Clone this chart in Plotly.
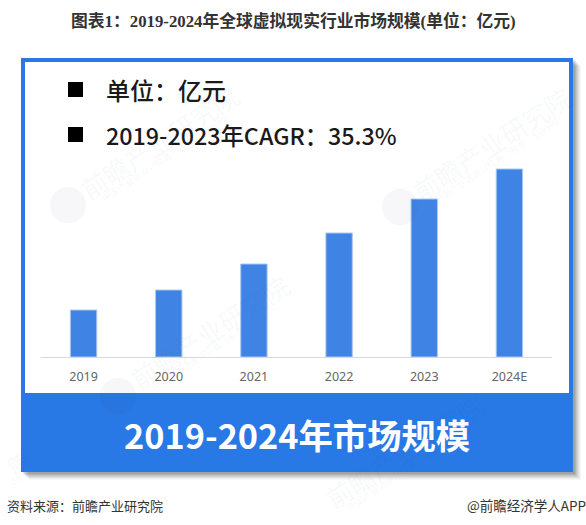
import plotly.graph_objects as go

W, H = 586, 525
categories = ["2019", "2020", "2021", "2022", "2023", "2024E"]
market_size = [47, 67, 93, 124, 158, 188]

title_text = "图表1：2019-2024年全球虚拟现实行业市场规模(单位：亿元)"
unit_text = "单位：亿元"
cagr_text = "2019-2023年CAGR：35.3%"
band_text = "2019-2024年市场规模"
source_text = "资料来源：前瞻产业研究院"
credit_text = "@前瞻经济学人APP"
watermark_text = "前瞻产业研究院"
watermark_sub = "中国产业咨询领导者（股票：839599）"

CJK = "Noto Sans CJK SC"
BLUE = "#2878E5"


def fx(px):
    return px / W


def fy(px):
    return 1 - px / H


def rect(x0, y0, x1, y1, fill, **kw):
    return dict(type="rect", xref="paper", yref="paper", x0=fx(x0), x1=fx(x1),
                y0=fy(y1), y1=fy(y0), fillcolor=fill, line_width=0, layer="below", **kw)


def label(x, y, text, size, color, anchor="left", family=CJK, angle=0, bold=False):
    body = f"<b>{text}</b>" if bold else text
    return dict(xref="paper", yref="paper", x=fx(x), y=fy(y), text=body, showarrow=False,
                xanchor=anchor, yanchor="middle", textangle=angle,
                font=dict(size=size, color=color, family=family))


shapes = []
for off, alpha in [(8, 0.03), (7, 0.04), (6, 0.05), (5, 0.06), (4, 0.07), (3, 0.08), (2, 0.09)]:
    shapes.append(rect(21 + off, 58 + off, 573 + off, 472 + off, f"rgba(0,0,0,{alpha})"))
shapes.append(rect(21, 58, 573, 472, BLUE))
shapes.append(rect(25, 62, 569, 393, "#FFFFFF"))
shapes.append(rect(68, 82, 83, 97, "#000000"))
shapes.append(rect(68, 127, 83, 142, "#000000"))

WM = "rgba(60,72,105,0.055)"
for cx, cy in [(68, 205), (400, 207), (118, 396)]:
    shapes.append(dict(type="circle", xref="paper", yref="paper", x0=fx(cx - 18), x1=fx(cx + 18),
                       y0=fy(cy + 18), y1=fy(cy - 18), fillcolor="rgba(60,72,105,0.045)",
                       line_width=0, layer="above"))

annotations = [
    label(293, 21, title_text, 16.8, "#333333", "center", f"Liberation Serif, {CJK}", bold=True),
    label(104, 89, unit_text, 24, "#1A1A1A", family=f"{CJK} Medium, {CJK}"),
    label(104, 135, cagr_text, 23.3, "#1A1A1A", family=f"{CJK} Medium, {CJK}"),
    label(297, 434, band_text, 34.3, "#FFFFFF", "center", bold=True),
    label(5, 505, source_text, 13, "#333333"),
    label(588, 505, credit_text, 13.5, "#333333", "right"),
    label(18, 462, "院", 20, WM, "center", angle=-31),
    label(15, 479, "59", 8, WM, "center", angle=-31),
]
for cx, cy in [(159, 141), (491, 143), (209, 331), (404, 450)]:
    annotations.append(label(cx, cy, watermark_text, 26, WM, "center", angle=-33))
    annotations.append(label(cx + 9, cy + 15, watermark_sub, 9, WM, "center", angle=-33))

fig = go.Figure(go.Bar(
    x=categories, y=market_size, width=0.31,
    marker=dict(color="#3F84E5", line=dict(color="#A9C8F2", width=1)),
))
fig.update_layout(
    width=W, height=H, autosize=False, margin=dict(l=0, r=0, t=0, b=0),
    paper_bgcolor="#FFFFFF", plot_bgcolor="rgba(0,0,0,0)", showlegend=False,
    shapes=shapes, annotations=annotations,
    xaxis=dict(domain=[fx(41), fx(552)], showline=True, linecolor="#D9D9D9", linewidth=1,
               showgrid=False, zeroline=False, ticks="outside", ticklen=8, tickcolor="rgba(0,0,0,0)",
               tickfont=dict(size=12.5, color="#666666", family="Noto Sans")),
    yaxis=dict(domain=[fy(357), fy(157)], range=[0, 200], visible=False),
)
fig.write_html("out.html", config=dict(displayModeBar=False),
               post_script="document.body.style.margin='0';")
